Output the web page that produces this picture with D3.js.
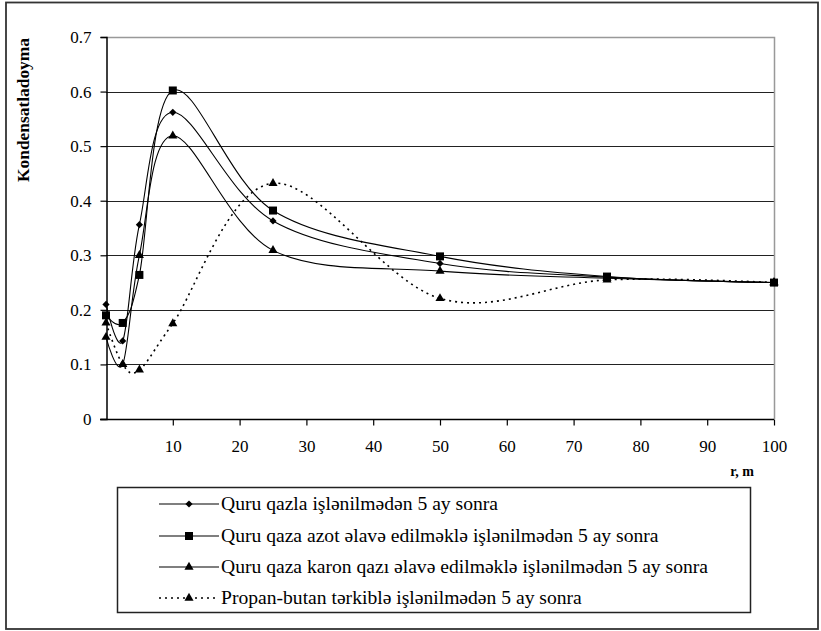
<!DOCTYPE html>
<html>
<head>
<meta charset="utf-8">
<script src="https://cdn.jsdelivr.net/npm/d3@7"></script>
<style>
  body { margin: 0; background: #fff; }
  svg text { font-family: "Liberation Serif", "Times New Roman", "DejaVu Serif", serif !important; fill: #000; }
</style>
</head>
<body>
<svg class="chart"></svg>
<script>
// Data
var xValues = [0, 2.5, 5, 10, 25, 50, 75, 100];
var seriesNames = [
    "Quru qazla işlənilmədən 5 ay sonra",
    "Quru qaza azot əlavə edilməklə işlənilmədən 5 ay sonra",
    "Quru qaza karon qazı əlavə edilməklə işlənilmədən 5 ay sonra",
    "Propan-butan tərkiblə işlənilmədən 5 ay sonra"
];
var diamondValues = [0.21, 0.143, 0.356, 0.562, 0.363, 0.285, 0.26, 0.25];
var squareValues = [0.19, 0.176, 0.264, 0.602, 0.382, 0.298, 0.261, 0.25];
var triangleValues = [0.15, 0.1, 0.3, 0.519, 0.309, 0.271, 0.258, 0.25];
var propaneValues = [0.176, 0.1, 0.09, 0.175, 0.432, 0.221, 0.255, 0.25];
var xTicks = [10, 20, 30, 40, 50, 60, 70, 80, 90, 100];
var yTicks = [0, 0.1, 0.2, 0.3, 0.4, 0.5, 0.6, 0.7];

var W = 821, H = 631;
var plot = { left: 106, right: 774, top: 37, bottom: 419 };
var serif = "'Liberation Serif', 'Times New Roman', 'DejaVu Serif', serif";

var svg = d3.select(".chart").attr("width", W).attr("height", H)
    .attr("font-family", serif);

// Outer frame
svg.append("rect")
    .attr("x", 6).attr("y", 2.5)
    .attr("width", 812).attr("height", 626.5)
    .attr("fill", "none").attr("stroke", "#333").attr("stroke-width", 1.8);

var x = d3.scaleLinear().domain([0, 100]).range([plot.left, plot.right]);
var y = d3.scaleLinear().domain([0, 0.7]).range([plot.bottom, plot.top]);

// Horizontal gridlines
svg.append("g").selectAll("line")
    .data(yTicks.filter(function (d) { return d > 0 && d < 0.7; }))
    .enter().append("line")
    .attr("x1", plot.left).attr("x2", plot.right)
    .attr("y1", function (d) { return Math.round(y(d)) + 0.5; })
    .attr("y2", function (d) { return Math.round(y(d)) + 0.5; })
    .attr("stroke", "#222").attr("stroke-width", 1.2);

// Gray top and right borders of the plot area
svg.append("path")
    .attr("d", "M" + plot.left + "," + (plot.top + 0.5) + "H" + (plot.right + 0.5) + "V" + plot.bottom)
    .attr("fill", "none").attr("stroke", "#999").attr("stroke-width", 1.5);

// Axes
var yAxis = svg.append("g")
    .attr("transform", "translate(" + (plot.left + 0.5) + ",0)")
    .call(d3.axisLeft(y).tickValues(yTicks).tickSize(6).tickPadding(9));
yAxis.attr("font-family", serif).attr("font-size", 17);
yAxis.select(".domain").attr("stroke", "#000").attr("stroke-width", 1.5);
yAxis.selectAll(".tick line").attr("stroke", "#000").attr("stroke-width", 1.2);
yAxis.selectAll(".tick text").text(function (d) { return d === 0 ? "0" : d3.format(".1f")(d); });

var xAxis = svg.append("g")
    .attr("transform", "translate(0," + (plot.bottom + 0.5) + ")")
    .call(d3.axisBottom(x).tickValues(xTicks).tickSize(6).tickPadding(14));
xAxis.attr("font-family", serif).attr("font-size", 17);
xAxis.select(".domain").attr("stroke", "#000").attr("stroke-width", 1.5)
    .attr("d", "M" + (plot.left - 6) + ",0H" + plot.right);
xAxis.selectAll(".tick line").attr("stroke", "#000").attr("stroke-width", 1.2);

// Axis titles
svg.append("text")
    .attr("transform", "translate(29,110) rotate(-90)")
    .attr("text-anchor", "middle")
    .attr("textLength", 144).attr("lengthAdjust", "spacingAndGlyphs")
    .style("font-size", "16px").style("font-weight", "bold")
    .text("Kondensatladoyma");

svg.append("text")
    .attr("x", 742).attr("y", 476)
    .attr("text-anchor", "middle")
    .style("font-size", "14px").style("font-weight", "bold")
    .text("r, m");

// Series
var symbolDiamond = d3.symbol().type(d3.symbolSquare).size(26);
var symbolSquare = d3.symbol().type(d3.symbolSquare).size(64);
var symbolTriangle = d3.symbol().type(d3.symbolTriangle).size(36);

var series = [
    { name: seriesNames[0], values: diamondValues, symbol: symbolDiamond, rotate: 45, dash: null },
    { name: seriesNames[1], values: squareValues, symbol: symbolSquare, rotate: 0, dash: null },
    { name: seriesNames[2], values: triangleValues, symbol: symbolTriangle, rotate: 0, dash: null },
    { name: seriesNames[3], values: propaneValues, symbol: symbolTriangle, rotate: 0, dash: "2,4" }
];

var line = d3.line()
    .x(function (d) { return x(d[0]); })
    .y(function (d) { return y(d[1]); })
    .curve(d3.curveCardinal.tension(0));

series.forEach(function (s) {
    var pts = xValues.map(function (v, i) { return [v, s.values[i]]; });
    svg.append("path")
        .datum(pts)
        .attr("d", line)
        .attr("fill", "none")
        .attr("stroke", "#000")
        .attr("stroke-width", s.dash ? 1.6 : 1.1)
        .attr("stroke-dasharray", s.dash);
    svg.append("g").selectAll("path")
        .data(pts)
        .enter().append("path")
        .attr("d", s.symbol)
        .attr("transform", function (d) {
            return "translate(" + x(d[0]) + "," + y(d[1]) + ") rotate(" + s.rotate + ")";
        })
        .attr("fill", "#000");
});

// Legend
var legend = svg.append("g");
legend.append("rect")
    .attr("x", 117.5).attr("y", 487.5)
    .attr("width", 633).attr("height", 125)
    .attr("fill", "#fff").attr("stroke", "#222").attr("stroke-width", 1.5);

var rowY = [504, 536, 567, 598];
var labels = [];
series.forEach(function (s, i) {
    var g = legend.append("g").attr("transform", "translate(0," + rowY[i] + ")");
    g.append("line")
        .attr("x1", 159).attr("x2", 219)
        .attr("stroke", "#000")
        .attr("stroke-width", s.dash ? 1.6 : 1.1)
        .attr("stroke-dasharray", s.dash);
    g.append("path")
        .attr("d", s.symbol)
        .attr("transform", "translate(189,0) rotate(" + s.rotate + ")")
        .attr("fill", "#000");
    labels.push(g.append("text")
        .attr("x", 221).attr("y", 0).attr("dy", "0.35em")
        .style("font-size", "18px")
        .text(s.name));
});

// The longest legend row spans about 487px in the reference; stretch all rows alike.
var stretch = 487 / labels[2].node().getComputedTextLength();
labels.forEach(function (t) {
    t.attr("textLength", t.node().getComputedTextLength() * stretch)
     .attr("lengthAdjust", "spacingAndGlyphs");
});
</script>
</body>
</html>
